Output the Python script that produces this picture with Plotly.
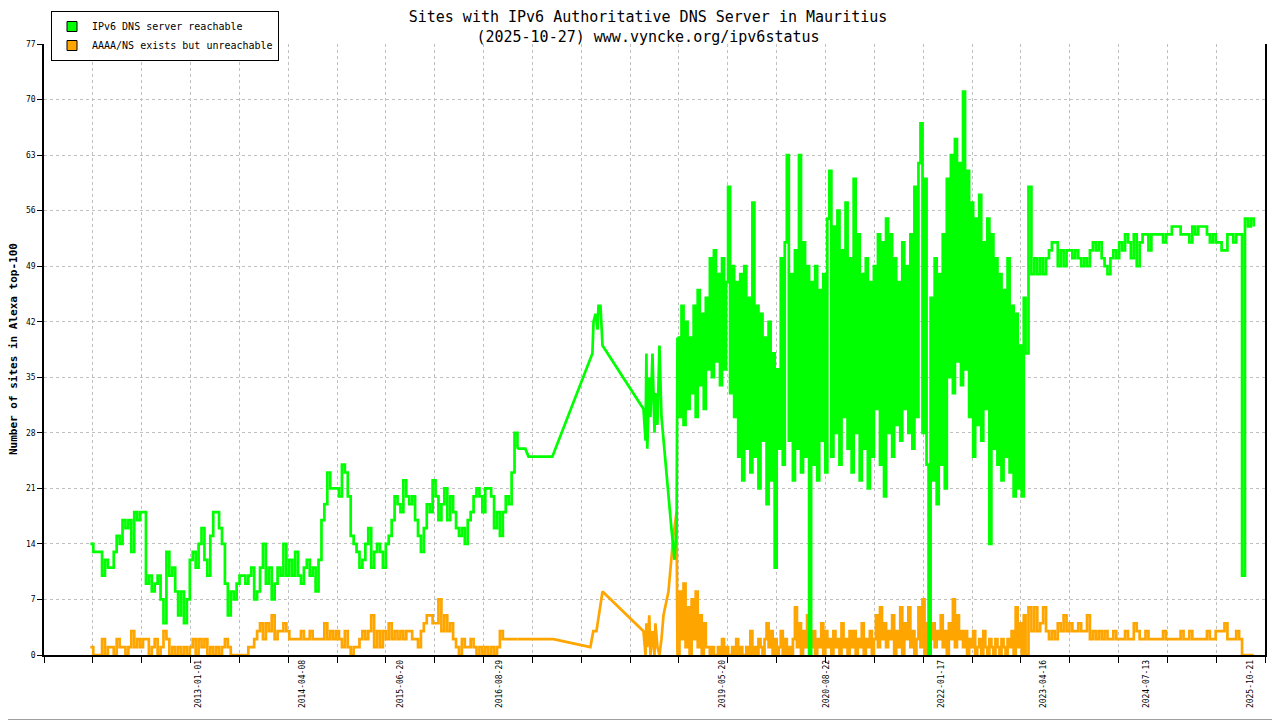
import pandas as pd
import plotly.graph_objects as go

# --- data ----------------------------------------------------------------
# period A: one reading every 13 days from 2011-09-09
green_a = [14, 13, 13, 13, 10, 12, 11, 11, 13, 15,
           14, 17, 16, 17, 13, 18, 17, 18, 18, 9,
           10, 8, 9, 10, 7, 4, 13, 10, 11, 8,
           5, 8, 4, 7, 12, 13, 11, 14, 16, 12,
           10, 15, 18, 18, 16, 14, 9, 5, 8, 7,
           9, 10, 10, 9, 10, 11, 7, 8, 11, 14,
           9, 11, 7, 9, 11, 10, 14, 10, 12, 10,
           13, 10, 9, 11, 12, 10, 11, 8, 12, 17,
           19, 23, 21, 21, 21, 20, 24, 23, 20, 15,
           14, 13, 11, 12, 14, 16, 11, 13, 14, 13,
           11, 14, 15, 17, 20, 19, 18, 22, 20, 19,
           20, 17, 15, 13, 16, 19, 18, 22, 20, 17,
           19, 21, 17, 20, 18, 16, 15, 16, 14, 17,
           18, 20, 21, 20, 18, 21, 21, 20, 16, 18,
           15, 18, 20, 19, 23, 28, 26]
orange_a = [1, 0, 0, 0, 2, 0, 1, 1, 0, 2,
            1, 1, 0, 1, 3, 1, 2, 1, 2, 2,
            0, 1, 2, 0, 1, 3, 2, 0, 1, 0,
            1, 0, 1, 0, 1, 2, 0, 2, 1, 2,
            0, 1, 0, 1, 0, 1, 2, 1, 0, 0,
            0, 0, 0, 0, 1, 1, 2, 3, 4, 2,
            4, 3, 5, 2, 3, 3, 4, 3, 2, 2,
            2, 2, 3, 2, 2, 3, 2, 2, 2, 2,
            4, 2, 3, 2, 3, 2, 1, 3, 1, 0,
            1, 1, 2, 3, 2, 3, 5, 1, 3, 1,
            3, 2, 4, 2, 3, 2, 3, 2, 3, 3,
            2, 2, 1, 3, 4, 5, 5, 4, 4, 7,
            3, 5, 3, 4, 2, 1, 0, 2, 1, 1,
            2, 1, 0, 1, 0, 1, 0, 1, 0, 1,
            3, 2, 2, 2, 2, 2, 2]

# sparse readings 2016-2018
green_gap_dates = ["2016-12-24", "2017-01-07", "2017-04-23", "2017-10-18", "2017-10-23",
                   "2017-11-01", "2017-11-10", "2017-11-14", "2017-11-23", "2017-12-02",
                   "2018-06-02", "2018-06-11", "2018-06-15", "2018-06-19", "2018-06-28",
                   "2018-07-03", "2018-07-12", "2018-07-21", "2018-07-25", "2018-08-03",
                   "2018-08-12", "2018-08-21", "2018-09-08", "2018-09-21", "2018-10-04",
                   "2018-10-18", "2018-10-27"]
green_gap = [26, 25, 25, 38, 42, 43, 41, 44, 44, 39, 31, 27, 38, 26, 35,
             30, 38, 28, 33, 29, 39, 30, 24, 20, 16, 12, 16]
orange_gap_dates = ["2017-04-28", "2017-10-09", "2017-10-22", "2017-11-05", "2017-12-02",
                    "2018-06-02", "2018-06-11", "2018-06-15", "2018-06-19", "2018-06-28",
                    "2018-07-03", "2018-07-12", "2018-07-21", "2018-07-25", "2018-08-03",
                    "2018-08-12", "2018-08-21", "2018-08-30", "2018-09-21", "2018-10-13",
                    "2018-10-27"]
orange_gap = [2, 1, 3, 3, 8, 3, 0, 4, 1, 5, 0, 3, 0, 4, 1, 0, 2, 5, 8, 15, 18]

# period C: one reading every 9 days from 2018-10-31
green_c = [40, 30, 44, 29, 42, 31, 40, 33, 44, 30,
           46, 34, 43, 31, 45, 36, 50, 35, 51, 37,
           48, 34, 50, 36, 47, 59, 33, 49, 30, 47,
           25, 48, 22, 49, 26, 45, 23, 57, 25, 44,
           21, 43, 27, 40, 19, 42, 22, 38, 11, 36,
           26, 50, 24, 52, 63, 27, 48, 22, 51, 26,
           63, 23, 52, 25, 49, 0, 47, 24, 49, 22,
           46, 27, 48, 23, 55, 61, 25, 54, 28, 56,
           24, 51, 30, 57, 26, 50, 23, 60, 28, 53,
           22, 48, 26, 50, 21, 47, 25, 49, 31, 53,
           24, 52, 20, 55, 28, 53, 25, 50, 29, 47,
           27, 52, 31, 49, 28, 53, 26, 59, 30, 62,
           67, 28, 60, 24, 0, 45, 22, 50, 19, 48,
           24, 53, 21, 60, 35, 63, 33, 65, 37, 62,
           34, 71, 36, 61, 30, 57, 25, 55, 29, 58,
           27, 52, 31, 55, 14, 53, 26, 50, 24, 48,
           22, 46, 25, 50, 23, 44, 20, 43, 21, 39,
           20, 45]
orange_c = [0, 8, 2, 9, 1, 6, 0, 7, 2, 8, 1, 5, 0, 4, 1,
            1, 0, 1, 0, 0, 1, 0, 2, 0, 1, 0, 0, 1, 0, 2, 0, 1, 0, 0, 1, 0, 3, 0, 1, 0, 2,
            1, 0, 2, 4, 1, 3, 0, 2, 0, 1, 3, 0, 2, 0, 1, 0,
            2, 6, 1, 4, 0, 3, 1, 5, 2,
            1, 3, 0, 2, 1, 4, 0, 3, 1, 2, 0, 3, 1, 2, 0, 4, 1, 2, 0, 3,
            1, 3, 0, 2, 1, 4, 0, 2, 1, 3, 0,
            2, 5, 1, 6, 2, 4, 1, 3, 2, 5,
            0, 3, 1, 6, 0, 4, 2, 6, 1, 3, 0,
            2, 6, 1, 7, 0, 4, 0,
            2, 4, 1, 3, 2, 5, 1, 3, 0, 4, 2, 7, 1, 5, 2, 3,
            1, 3, 0, 2, 1, 3, 0, 1, 2, 0, 3, 1, 0, 2, 1, 0, 2, 1, 0, 2,
            1, 0, 2, 1, 3, 0, 6, 1, 4, 0, 5]

# period D: one reading every 13 days from 2023-01-25
green_d = [38, 59, 48, 50, 48, 50, 48, 50, 51, 52,
           52, 49, 51, 49, 51, 51, 50, 51, 50, 49,
           50, 49, 51, 52, 51, 52, 50, 49, 48, 50,
           51, 50, 52, 51, 53, 52, 50, 53, 49, 52,
           53, 53, 51, 53, 53, 53, 53, 52, 53, 53,
           54, 54, 54, 53, 53, 53, 52, 54, 53, 54,
           54, 54, 53, 52, 53, 52, 52, 51, 51, 53,
           53, 52, 53, 53, 10, 55, 54, 55, 54]
orange_d = [0, 6, 3, 6, 3, 4, 6, 3, 2, 3,
            2, 4, 3, 5, 3, 4, 3, 3, 4, 3,
            3, 5, 2, 3, 2, 3, 2, 3, 2, 2,
            3, 2, 2, 2, 3, 2, 2, 4, 3, 2,
            2, 3, 2, 2, 2, 2, 2, 3, 2, 2,
            2, 2, 2, 3, 2, 2, 3, 2, 2, 2,
            2, 2, 3, 2, 2, 3, 3, 3, 4, 2,
            2, 2, 3, 2, 0, 0, 0, 0, 0]

label_dates = ["2013-01-01", "2014-04-08", "2015-06-20", "2016-08-29", "2019-05-20",
               "2020-08-22", "2022-01-17", "2023-04-16", "2024-07-13", "2025-10-21"]

dates_a = list(pd.date_range("2011-09-09", periods=len(green_a), freq="13D"))
dates_c = list(pd.date_range("2018-10-31", periods=len(green_c), freq="9D"))
dates_d = list(pd.date_range("2023-01-25", periods=len(green_d), freq="13D"))

GREEN = "#00ff00"
ORANGE = "#ffa500"
GRID = "#c0c0c0"
LW = 2.7

# the page puts the figure 8px in from the top-left corner, so the
# figure is 8px smaller than the window and the margins are shifted
W, H = 1272, 712
ML, MR, MT, MB = 36, 15, 36, 65
PW, PH = W - ML - MR, H - MT - MB

fig = go.Figure()


def add_series(vals_a, gap_dates, gap_vals, vals_cd, color):
    # dense parts drawn as steps, the sparse 2016-2018 stretch as straight segments
    gap_x = [dates_a[-1]] + list(pd.to_datetime(gap_dates)) + [dates_c[0]]
    gap_y = [vals_a[-1]] + gap_vals + [vals_cd[0]]
    fig.add_trace(go.Scatter(x=dates_a, y=vals_a, mode="lines", line_shape="hv",
                             line=dict(color=color, width=LW), showlegend=False, hoverinfo="skip"))
    fig.add_trace(go.Scatter(x=gap_x, y=gap_y, mode="lines",
                             line=dict(color=color, width=LW), showlegend=False, hoverinfo="skip"))
    fig.add_trace(go.Scatter(x=dates_c + dates_d, y=vals_cd, mode="lines", line_shape="hv",
                             line=dict(color=color, width=LW), showlegend=False, hoverinfo="skip"))


add_series(orange_a, orange_gap_dates, orange_gap, orange_c + orange_d, ORANGE)
add_series(green_a, green_gap_dates, green_gap, green_c + green_d, GREEN)

# legend swatches
for name, col in [("IPv6 DNS server reachable", GREEN),
                  ("AAAA/NS exists but unreachable", ORANGE)]:
    fig.add_trace(go.Scatter(x=[None], y=[None], mode="markers", name=name,
                             marker=dict(symbol="square", size=10, color=col,
                                         line=dict(color="black", width=1))))

fig.update_layout(
    width=W, height=H,
    margin=dict(l=ML, r=MR, t=MT, b=MB, autoexpand=False),
    paper_bgcolor="white", plot_bgcolor="white",
    font=dict(family="DejaVu Sans Mono", color="black"),
    title=dict(text="Sites with IPv6 Authoritative DNS Server in Mauritius<br>(2025-10-27) www.vyncke.org/ipv6status",
               x=0.5 + 4 / W, xanchor="center", y=1 - 14 / H, yanchor="top", yref="container",
               font=dict(size=15)),
    legend=dict(xref="container", yref="container", x=43 / W, y=1 - 3 / H,
                xanchor="left", yanchor="top", bgcolor="white",
                bordercolor="black", borderwidth=1, font=dict(size=10),
                tracegroupgap=0, itemwidth=30),
    xaxis=dict(type="date", range=["2011-02-15", "2025-12-24"], automargin=False,
               tickmode="array", tickvals=label_dates, ticktext=label_dates,
               tickangle=-90, tickfont=dict(size=8), showgrid=False, ticks="",
               showline=True, linecolor="black", linewidth=1.5, zeroline=False,
               minor=dict(tick0="2011-02-15", dtick=217.06 * 86400000, showgrid=True,
                          griddash="dot", gridcolor=GRID, gridwidth=1,
                          ticks="outside", ticklen=6, tickcolor="black")),
    yaxis=dict(range=[0, 77], tickmode="linear", tick0=0, dtick=7, automargin=False,
               showgrid=True, griddash="dot", gridcolor=GRID,
               ticks="outside", ticklen=5, tickcolor="black", tickfont=dict(size=8),
               showline=True, linecolor="black", linewidth=1.5, mirror=True, zeroline=False),
    annotations=[dict(text="<b>Number of sites in Alexa top-100</b>", textangle=-90,
                      xref="paper", yref="paper", x=(5.5 - ML) / PW, y=0.5,
                      xanchor="center", yanchor="middle", showarrow=False,
                      font=dict(size=11))],
    shapes=[dict(type="line", xref="paper", yref="paper",
                 x0=(W - 0.5 - ML) / PW, x1=(W - 0.5 - ML) / PW,
                 y0=-(H - 0.5 - MT - PH) / PH, y1=1 + (MT - 0.5) / PH,
                 line=dict(color="#a0a0a0", width=1)),
            dict(type="line", xref="paper", yref="paper",
                 x0=-ML / PW, x1=(W - ML) / PW,
                 y0=-(H - 0.5 - MT - PH) / PH, y1=-(H - 0.5 - MT - PH) / PH,
                 line=dict(color="#a0a0a0", width=1))],
)

fig.write_html("out.html")
